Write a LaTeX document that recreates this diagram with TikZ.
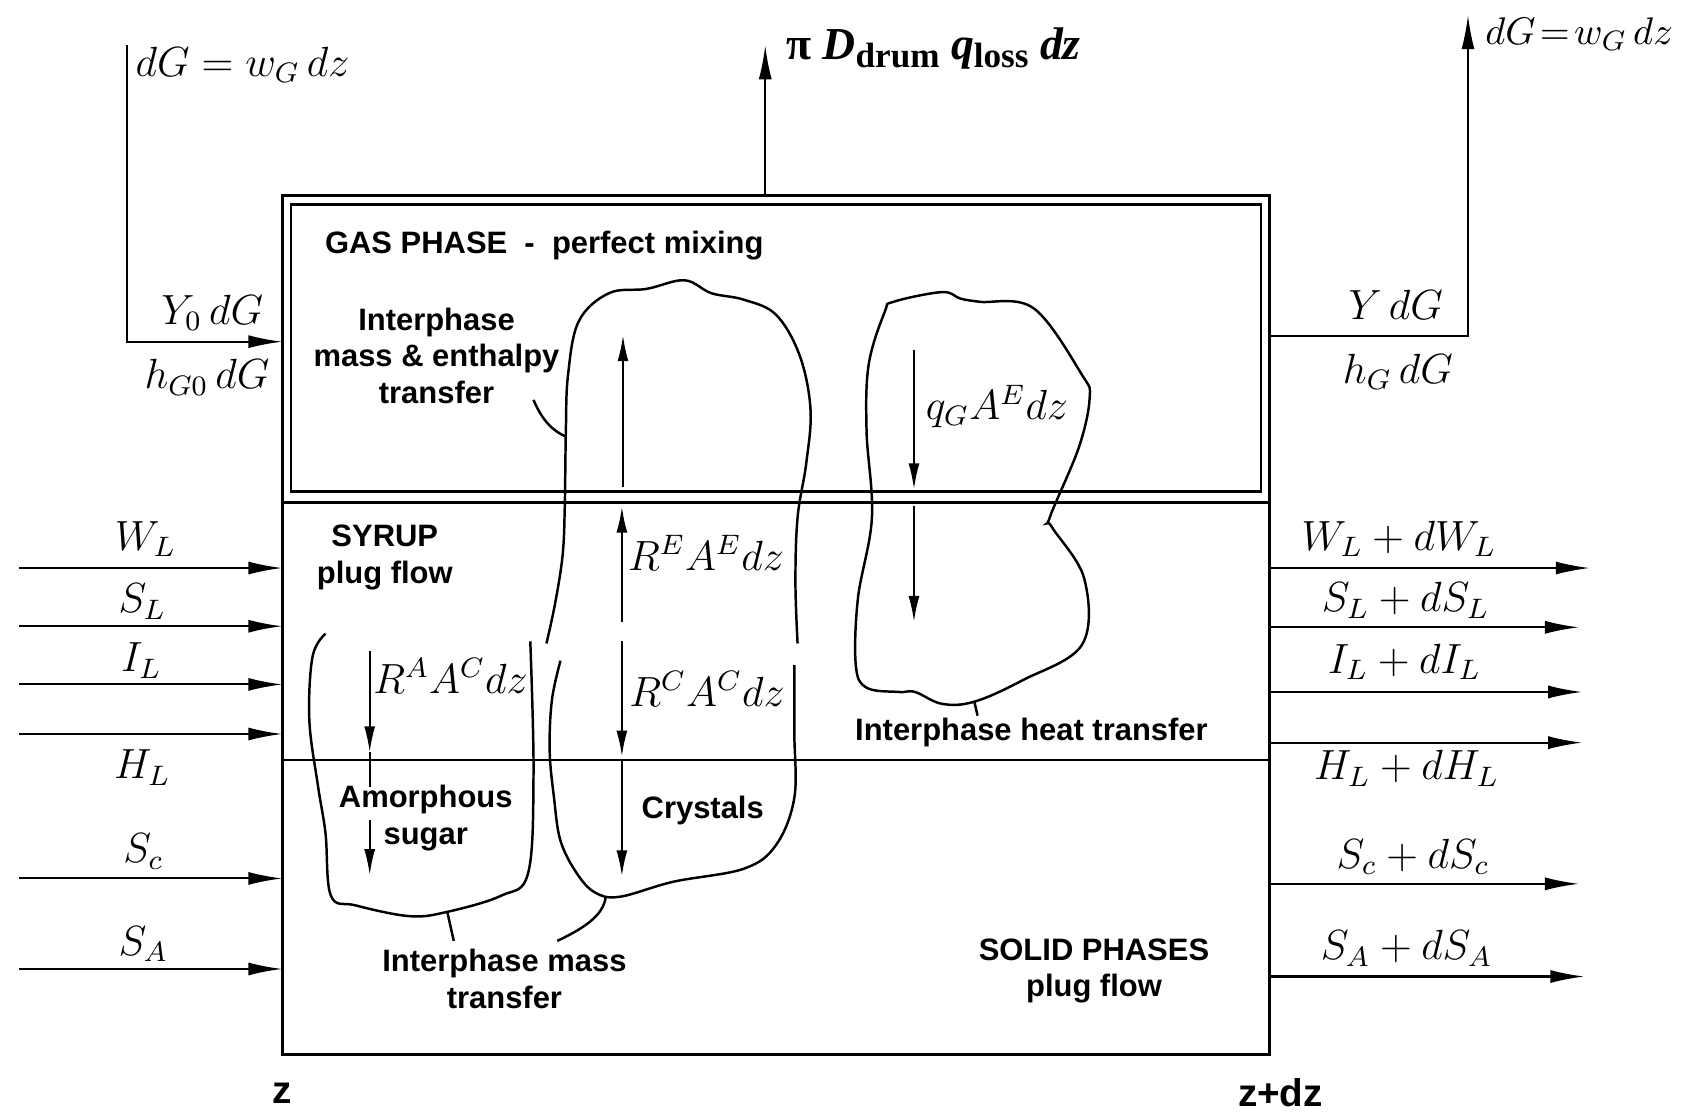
\documentclass[tikz,border=0pt]{standalone}
\usepackage{fontspec}
\usepackage{amsmath}
\usetikzlibrary{arrows.meta, positioning}
\newfontfamily\lblfont{Liberation Sans}
\newfontfamily\timesfont{Liberation Serif}

\begin{document}
\begin{tikzpicture}[x=0.010778cm, y=-0.010778cm]
	% styles
	\tikzset{
		wall/.style={line width=0.8pt},
		stream/.style={line width=0.6pt, -{Latex[length=3.4mm, width=1.3mm]}},
		rate/.style={line width=0.6pt, -{Latex[length=2.6mm, width=1.1mm]}},
		blob/.style={line width=0.7pt},
		hand/.style={font=\fontsize{12}{15}\selectfont, inner sep=1pt},
		lbl/.style={font=\lblfont\bfseries\fontsize{8.8}{10.4}\selectfont, align=center, inner sep=1pt}
	}
	\useasboundingbox (0,0) rectangle (1568,1035);
	
	% drum: outer wall, gas box, syrup / solid line
	\draw[wall] (262,181) rectangle (1178,978);
	\draw[wall] (270,190) rectangle (1170,456);
	\draw[wall] (262,466) -- (1178,466);
	\draw[line width=0.5pt] (262,705) -- (1178,705);
	
	% streams in at z
	\foreach \y/\nm in {527/wl, 581/sl, 635/il, 681/hl, 815/sc, 899/sa} {
		\coordinate (in-\nm) at (18,\y);
		\coordinate (z-\nm) at (262,\y);
		\draw[stream] (in-\nm) -- (z-\nm);
	}
	
	% streams out at z+dz
	\foreach \y/\x/\nm in {527/1475/wl, 582/1465/sl, 642/1468/il, 689/1468/hl, 820/1465/sc, 906/1470/sa} {
		\coordinate (dz-\nm) at (1178,\y);
		\coordinate (out-\nm) at (\x,\y);
		\draw[stream] (dz-\nm) -- (out-\nm);
	}
	
	% stream labels
	\foreach \x/\y/\nm/\t in {135/500/wl/{W_L}, 132/558/sl/{S_L}, 131/613/il/{I_L}, 132/712/hl/{H_L}, 133/790/sc/{S_c}, 133/876/sa/{S_A}} {
		\node[hand] (lin-\nm) at (\x,\y) {$\t$};
	}
	\foreach \x/\y/\nm/\t in {1298/500/wl/{W_L + dW_L}, 1304/557/sl/{S_L + dS_L}, 1303/614/il/{I_L + dI_L}, 1305/713/hl/{H_L + dH_L}, 1311/795/sc/{S_c + dS_c}, 1305/880/sa/{S_A + dS_A}} {
		\node[hand] (lout-\nm) at (\x,\y) {$\t$};
	}
	
	% gas in, gas out, heat loss
	\coordinate (gin) at (118,42);
	\coordinate (gasin) at (262,317);
	\draw[stream] (gin) |- (gasin);
	\coordinate (gasout) at (1178,312);
	\coordinate (gtop) at (1362,14);
	\draw[stream] (gasout) -| (gtop);
	\coordinate (drumtop) at (710,181);
	\coordinate (losstop) at (710,42);
	\draw[stream] (drumtop) -- (losstop);
	
	\node[hand] (dgin) at (225,60) {$dG = w_G\,dz$};
	\node[hand] (yin) at (197,290) {$Y_0\,dG$};
	\node[hand] (hin) at (192,350) {$h_{G0}\,dG$};
	\node[hand, anchor=east, font=\fontsize{10.95}{14}\selectfont] (dgout) at (1556,32) {$dG\!=\!w_G\,dz$};
	\node[hand] (yout) at (1295,283) {$Y\,dG$};
	\node[hand] (hout) at (1297,345) {$h_G\,dG$};
	\node[font=\timesfont\bfseries\fontsize{13}{15}\selectfont] (loss) at (866,45)
		{π \textit{D}\raisebox{-0.4ex}{\fontsize{10}{12}\selectfont drum} \textit{q}\raisebox{-0.4ex}{\fontsize{10}{12}\selectfont loss} \textit{dz}};
	
	% phase texts
	\node[lbl] (gas) at (505,228) {GAS PHASE \ - \ perfect mixing};
	\node[lbl] (mix) at (405,330) {Interphase\\mass \& enthalpy\\transfer};
	\node[lbl] (syrup) at (357,517) {SYRUP\\plug flow};
	\node[lbl] (amorph) at (395,759) {Amorphous\\sugar};
	\node[lbl] (cryst) at (652,752) {Crystals};
	\node[lbl] (heat) at (957,680) {Interphase heat transfer};
	\node[lbl] (mass) at (468,908) {Interphase mass\\transfer};
	\node[lbl] (solid) at (1015,901) {SOLID PHASES\\plug flow};
	\node[lbl, font=\lblfont\bfseries\fontsize{11}{13}\selectfont] (zin) at (262,1014) {z};
	\node[lbl, font=\lblfont\bfseries\fontsize{11}{13}\selectfont] (zout) at (1188,1014) {z+dz};
	
	% rates
	\node[hand] (qg) at (925,377) {$q_G A^E dz$};
	\node[hand] (re) at (655,513) {$R^E A^E dz$};
	\node[hand] (ra) at (418,627) {$R^A A^C dz$};
	\node[hand] (rc) at (656,639) {$R^C A^C dz$};
	
	\draw[rate] (578,452) -- (578,311);
	\draw[rate] (577,577) -- (577,470);
	\draw[rate] (577,595) -- (577,702);
	\draw[rate] (577,706) -- (577,813);
	\draw[rate] (343,604) -- (343,698);
	\draw[line width=0.6pt] (343,698) -- (343,730);
	\draw[rate] (343,761) -- (343,812);
	\draw[rate] (848,325) -- (848,454);
	\draw[rate] (848,469) -- (848,577);
	
	% interphase regions
	\draw[blob] plot[smooth, tension=0.6] coordinates {(507,597) (515,560) (522,515) (524,470) (525,400) (527,348) (537,298) (565,272) (600,268) (635,260) (660,272) (690,278) (720,292) (742,330) (752,380) (748,430) (740,480) (738,540) (740,597)};
	\draw[blob] plot[smooth, tension=0.6] coordinates {(520,613) (512,650) (510,697) (514,740) (520,780) (535,810) (552,828) (575,832) (625,818) (690,806) (720,784) (737,740) (737,680) (737,617)};
	\draw[blob] plot[smooth, tension=0.6] coordinates {(302,588) (290,609) (287,668) (295,729) (302,773) (307,831) (330,840) (380,850) (415,846) (465,831) (490,810) (495,718) (492,595)};
	\draw[blob] plot[smooth cycle, tension=0.6] coordinates {(829,280) (874,271) (891,277) (909,280) (959,286) (1004,348) (1011,369) (1001,415) (974,480) (976,489) (1006,537) (1004,598) (949,631) (904,651) (874,653) (849,642) (834,642) (804,638) (794,617) (796,555) (809,480) (804,400) (806,338) (821,289)};
	
	% leaders
	\coordinate (mixtip) at (495,371);
	\coordinate (mixblob) at (525,405);
	\draw[blob] (mixtip) .. controls (503,390) and (513,400) .. (mixblob);
	\coordinate (amblob) at (415,846);
	\coordinate (amtip) at (421,873);
	\draw[blob] (amblob) -- (amtip);
	\coordinate (crblob) at (562,832);
	\coordinate (crtip) at (517,873);
	\draw[blob] (crblob) .. controls (560,850) and (540,862) .. (crtip);
	\coordinate (htblob) at (904,651);
	\coordinate (httip) at (907,664);
	\draw[blob] (htblob) -- (httip);
\end{tikzpicture}
\end{document}
